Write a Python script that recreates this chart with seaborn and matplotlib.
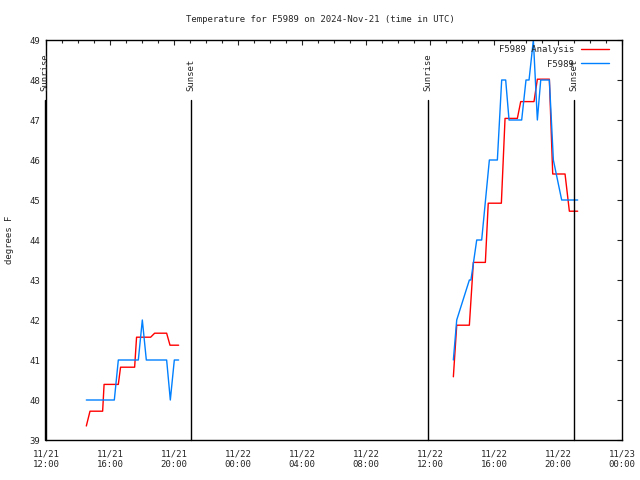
import pandas as pd
import matplotlib
matplotlib.use('Agg')
import matplotlib.pyplot as plt
import seaborn as sns
from matplotlib.ticker import MultipleLocator

# hours since 2024-11-21 12:00 UTC
analysis_hours_1 = [2.52, 2.75, 3.54, 3.63, 4.52, 4.66, 5.54, 5.66, 6.54, 6.79, 7.54, 7.75, 8.29]
analysis_temps_1 = [39.35, 39.72, 39.72, 40.39, 40.39, 40.82, 40.82, 41.57, 41.57, 41.67, 41.67, 41.37, 41.37]
analysis_hours_2 = [25.46, 25.67, 26.46, 26.71, 27.46, 27.64, 28.46, 28.69, 29.46, 29.67, 30.5, 30.71,
                    31.46, 31.67, 32.44, 32.71, 33.23]
analysis_temps_2 = [40.58, 41.87, 41.87, 43.44, 43.44, 44.92, 44.92, 47.04, 47.04, 47.46, 47.46, 48.02,
                    48.02, 45.65, 45.65, 44.72, 44.72]

obs_hours_1 = [2.52, 4.27, 4.52, 5.77, 6.02, 6.27, 7.54, 7.77, 8.02, 8.29]
obs_temps_1 = [40.0, 40.0, 41.0, 41.0, 42.0, 41.0, 41.0, 40.0, 41.0, 41.0]
obs_hours_2 = [25.46, 25.67, 26.46, 26.56, 26.92, 27.23, 27.71, 28.21, 28.48, 28.73, 28.94, 29.73,
               30.0, 30.19, 30.46, 30.71, 30.92, 31.46, 31.71, 32.23, 33.23]
obs_temps_2 = [41.0, 42.0, 43.0, 43.0, 44.0, 44.0, 46.0, 46.0, 48.0, 48.0, 47.0, 47.0,
               48.0, 48.0, 49.0, 47.0, 48.0, 48.0, 46.0, 45.0, 45.0]

sun_hours = [-0.09, 9.06, 23.875, 33.0]
sun_labels = ['Sunrise', 'Sunset', 'Sunrise', 'Sunset']

x_ticks = list(range(0, 37, 4))
x_tick_labels = ['11/21\n12:00', '11/21\n16:00', '11/21\n20:00', '11/22\n00:00', '11/22\n04:00',
                 '11/22\n08:00', '11/22\n12:00', '11/22\n16:00', '11/22\n20:00', '11/23\n00:00']

series_names = ['F5989 Analysis', 'F5989']
colors = {'F5989 Analysis': '#ff0000', 'F5989': '#0080ff'}

frames = []
for name, seg, hrs, tmp in [
    ('F5989 Analysis', 1, analysis_hours_1, analysis_temps_1),
    ('F5989 Analysis', 2, analysis_hours_2, analysis_temps_2),
    ('F5989', 1, obs_hours_1, obs_temps_1),
    ('F5989', 2, obs_hours_2, obs_temps_2),
]:
    frames.append(pd.DataFrame({'hour': hrs, 'temp': tmp, 'series': name, 'segment': seg}))
df = pd.concat(frames, ignore_index=True)

sns.set_style('white')
plt.rcParams['font.family'] = ['DejaVu Sans Mono']
fs = 6.5

fig = plt.figure(figsize=(6.4, 4.8), dpi=100)
ax = fig.add_axes([46 / 640, 1 - 440 / 480, 576 / 640, 400 / 480])

sns.lineplot(data=df, x='hour', y='temp', hue='series', hue_order=series_names, palette=colors,
             units='segment', estimator=None, sort=False, lw=1, ax=ax)

# sunrise / sunset markers
for h, lab in zip(sun_hours, sun_labels):
    ax.plot([h, h], [39, 47.5], color='black', lw=1, clip_on=False)
    ax.text(h, 47.72, lab, rotation=90, ha='center', va='bottom', fontsize=fs)

ax.set_xlim(0, 36)
ax.set_ylim(39, 49)
ax.set_xticks(x_ticks)
ax.set_xticklabels(x_tick_labels, fontsize=fs)
ax.xaxis.set_minor_locator(MultipleLocator(1))
ax.set_yticks(range(39, 50))
ax.tick_params(axis='y', labelsize=fs)
ax.tick_params(which='major', direction='in', top=True, right=True, length=3.5, width=0.8, pad=4)
ax.tick_params(which='minor', direction='in', top=True, right=True, length=1.8, width=0.8)
ax.tick_params(axis='x', which='major', pad=7)
for s in ax.spines.values():
    s.set_linewidth(1)
    s.set_color('black')

ax.set_xlabel('')
ax.set_ylabel('degrees F', fontsize=fs)
ax.yaxis.set_label_coords(-32 / 576, 0.5)

handles, labels = ax.get_legend_handles_labels()
ax.legend(handles, labels, loc='upper right', bbox_to_anchor=(1 - 9.5 / 576, 1 - 1.5 / 400),
          borderaxespad=0, frameon=False, markerfirst=False, fontsize=fs,
          handlelength=3.1, handletextpad=0.75, labelspacing=0.6)

fig.text(0.5, 1 - 20 / 480, 'Temperature for F5989 on 2024-Nov-21 (time in UTC)',
         ha='center', va='center', fontsize=fs)

fig.savefig('out.png', dpi=100)
